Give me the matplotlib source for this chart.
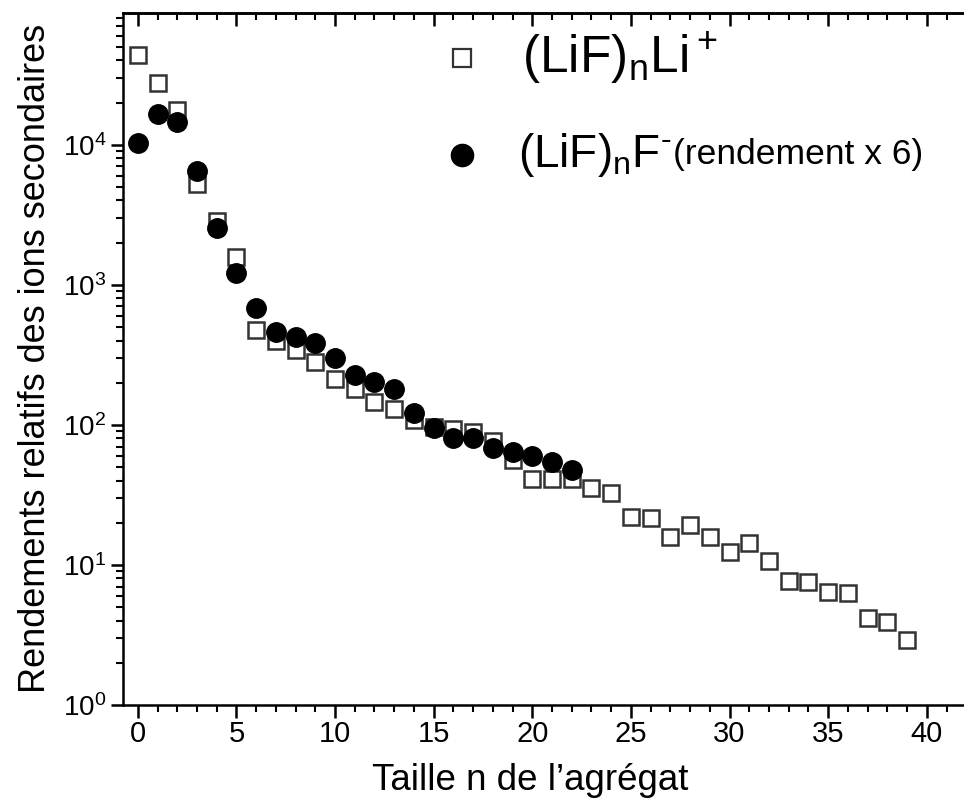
import numpy as np
import matplotlib
matplotlib.use('Agg')
import matplotlib.pyplot as plt
from matplotlib.ticker import MultipleLocator, LogLocator, NullFormatter

# data
n_li = list(range(40))
y_li = [44000, 27700, 17800, 5260, 2870, 1585, 477, 398, 343, 282,
        213, 181, 146, 130, 109, 96, 94, 89, 77, 56,
        41, 41, 41, 35.5, 32.7, 22, 21.7, 15.9, 19.3, 15.9,
        12.4, 14.4, 10.7, 7.7, 7.6, 6.4, 6.3, 4.2, 3.9, 2.9]

n_f = list(range(23))
y_f = [10300, 16600, 14600, 6520, 2550, 1220, 685, 462, 425, 385,
       301, 228, 203, 181, 122, 95, 80.7, 80.7, 68.5, 64,
       60, 54.4, 47.7]

xlabel = "Taille n de l\u2019agr\u00e9gat"
ylabel = "Rendements relatifs des ions secondaires"
lab_li = r"$\mathregular{(LiF)_nLi^+}$"
lab_f = "$\\mathregular{(LiF)_nF^{\u2010}}$"
lab_f_extra = "(rendement x 6)"

plt.rcParams['font.family'] = 'Liberation Sans'
plt.rcParams['mathtext.fontset'] = 'custom'
plt.rcParams['mathtext.rm'] = 'Liberation Sans'

W, H = 964, 807
fig = plt.figure(figsize=(W/100, H/100), dpi=100)

xmin, xmax = -0.75, 42.5
px_unit = (926 - 137) / 40.0
left = 123 / W
bottom = (H - 705) / H
top = 13 / H
width = (xmax - xmin) * px_unit / W
ax = fig.add_axes([left, bottom, width, 1 - top - bottom])

ax.plot(n_li, y_li, ls='none', marker='s', ms=11, mfc='white',
        mec='#333333', mew=1.8, zorder=3)
ax.plot(n_f, y_f, ls='none', marker='o', ms=14, mfc='black',
        mec='black', zorder=4)

ax.set_yscale('log')
ax.set_xlim(xmin, xmax)
ax.set_ylim(1, 10**4.94)

ax.xaxis.set_major_locator(MultipleLocator(5))
ax.xaxis.set_minor_locator(MultipleLocator(1))
ax.yaxis.set_minor_locator(LogLocator(base=10, subs=np.arange(2, 10), numticks=10))
ax.yaxis.set_minor_formatter(NullFormatter())
ax.set_yticks([1, 10, 100, 1000, 10000])
ax.set_yticklabels([r'$\mathregular{10^{%d}}$' % k for k in range(5)])

ax.tick_params(axis='x', which='major', direction='out', length=9, width=1.8,
               labelsize=21, pad=2)
ax.tick_params(axis='x', which='minor', direction='out', length=5, width=1.5)
ax.tick_params(axis='y', which='major', direction='out', length=9, width=1.8,
               labelsize=20, pad=3)
ax.tick_params(axis='y', which='minor', direction='out', length=5, width=1.5)

for s in ['left', 'bottom', 'top', 'right']:
    ax.spines[s].set_linewidth(1.8)

# top axis with inward ticks
top_ax = ax.secondary_xaxis('top')
top_ax.xaxis.set_major_locator(MultipleLocator(5))
top_ax.xaxis.set_minor_locator(MultipleLocator(1))
top_ax.tick_params(which='major', direction='in', length=9, width=1.8, labeltop=False)
top_ax.tick_params(which='minor', direction='in', length=5, width=1.5)
top_ax.spines['top'].set_linewidth(1.8)

fig.text(530 / W, 1 - 780 / H, xlabel, fontsize=26.5, ha='center', va='center')
fig.text(36 / W, 1 - 358 / H, ylabel, fontsize=26, ha='center', va='center',
         rotation=90)

# legend drawn by hand
ax.plot([0.397], [0.935], transform=ax.transAxes, marker='s', ms=13,
        mfc='white', mec='#333333', mew=1.6, ls='none', clip_on=False)
ax.plot([0.397], [0.795], transform=ax.transAxes, marker='o', ms=16,
        mfc='black', mec='black', ls='none', clip_on=False)
ax.text(0.468, 0.935, lab_li, transform=ax.transAxes, fontsize=37,
        va='center', ha='left')
t2 = ax.text(0.463, 0.795, lab_f, transform=ax.transAxes, fontsize=33,
             va='center', ha='left')
ax.annotate(lab_f_extra, xy=(1.0, 0.5), xycoords=t2, xytext=(1, 0),
            textcoords='offset points', fontsize=25.5, va='center', ha='left')

fig.savefig('out.png', dpi=100)
